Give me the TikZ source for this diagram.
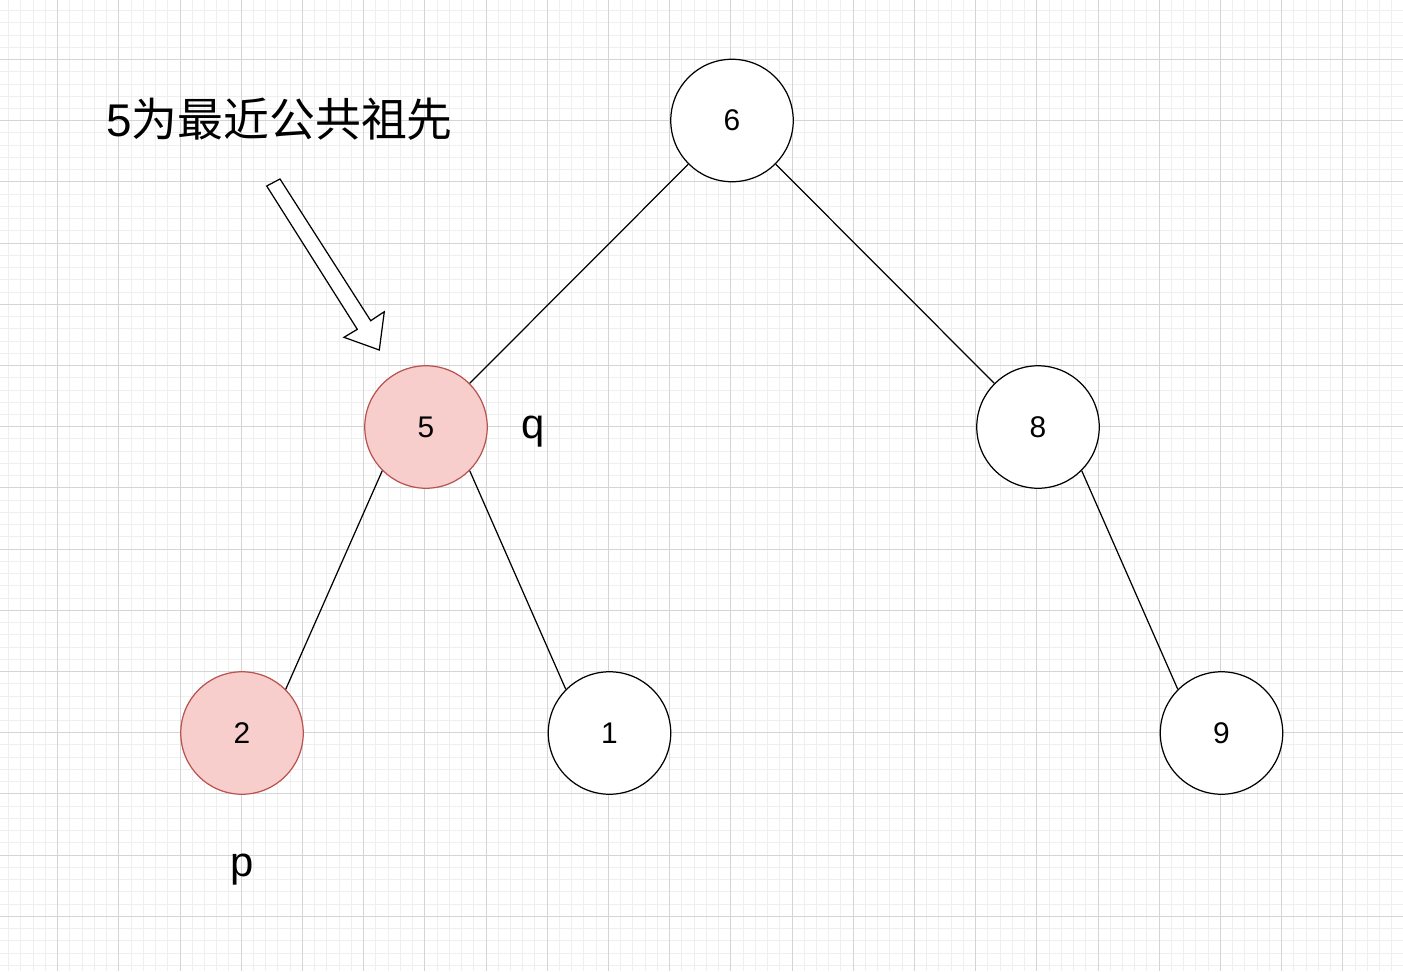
\documentclass[tikz,border=0pt]{standalone}
\usepackage{fontspec}
\setmainfont{Liberation Sans}
\newfontfamily\cjk{Noto Sans CJK SC}
\definecolor{gridminor}{HTML}{EFEFEF}
\definecolor{gridmajor}{HTML}{D4D4D4}
\definecolor{hitfill}{HTML}{F8CECC}
\definecolor{hitdraw}{HTML}{B85450}

\begin{document}
\begin{tikzpicture}[x=0.02cm,y=-0.02cm,
  vertex/.style={circle,draw=black,fill=white,line width=0.7pt,minimum size=2.45cm,inner sep=0pt,font=\fontsize{17pt}{17pt}\selectfont},
  hit/.style={vertex,draw=hitdraw,fill=hitfill},
  tag/.style={inner sep=0pt,anchor=base,font=\fontsize{23.8pt}{23.8pt}\selectfont},
  branch/.style={black,line width=0.7pt}]
\useasboundingbox[fill=white] (0,0) rectangle (1403,971);

% grid
\foreach \k in {0,...,114}
  \draw[gridminor,line width=0.55pt] ({8.64+12.24*\k},0) -- ++(0,971);
\foreach \k in {0,...,79}
  \draw[gridminor,line width=0.55pt] (0,{10.54+12.24*\k}) -- ++(1403,0);
\foreach \k in {0,...,22}
  \draw[gridmajor,line width=0.55pt] ({57.6+61.2*\k},0) -- ++(0,971);
\foreach \k in {0,...,14}
  \draw[gridmajor,line width=0.55pt] (0,{59.5+61.2*\k}) -- ++(1403,0);

% tree
\node[vertex] (n6) at (732,120.5) {6};
\node[hit] (n5) at (426,427) {5};
\node[vertex] (n8) at (1038,427) {8};
\node[hit] (n2) at (242,733) {2};
\node[vertex] (n1) at (609.5,733) {1};
\node[vertex] (n9) at (1221.5,733) {9};

\draw[branch] (n6.225) -- (n5.45);
\draw[branch] (n6.315) -- (n8.135);
\draw[branch] (n5.225) -- (n2.45);
\draw[branch] (n5.315) -- (n1.135);
\draw[branch] (n8.315) -- (n9.135);

\node[tag] (q) at (533,438) {q};
\node[tag] (p) at (242.5,876) {p};

% note and its block arrow
\node[inner sep=0pt,anchor=base west,font=\fontsize{26.1pt}{26.1pt}\selectfont] (note) at (106,136) {5{\cjk 为最近公共祖先}};
\draw[black,line width=0.7pt,fill=white,line join=miter]
  (266.7,186) -- (357.3,329.3) -- (344,337.3) -- (379.3,350)
  -- (384.3,311.7) -- (370.7,320.7) -- (280,179) -- cycle;
\end{tikzpicture}
\end{document}
